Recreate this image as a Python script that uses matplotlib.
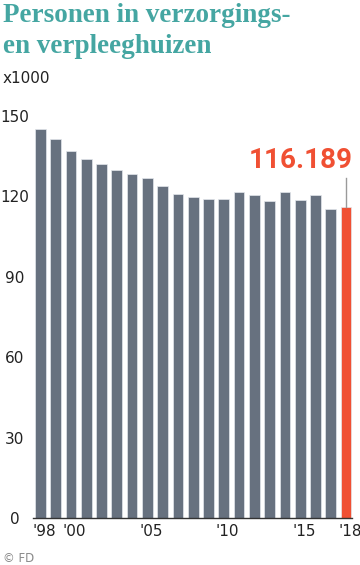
import matplotlib
matplotlib.use("Agg")
import matplotlib.pyplot as plt

# Data
years = list(range(1998, 2019))
values = [145.0, 141.3, 136.9, 133.8, 132.1, 129.9, 128.2, 126.8, 123.9, 121.0,
          119.7, 118.9, 119.0, 121.8, 120.4, 118.3, 121.8, 118.7, 120.6, 115.3,
          116.189]
yticks = [0, 30, 60, 90, 120, 150]
xtick_years = [1998, 2000, 2005, 2010, 2015, 2018]
xtick_labels = ["'98", "'00", "'05", "'10", "'15", "'18"]
highlight_label = "116.189"

W, H = 360, 565
fig = plt.figure(figsize=(W / 100, H / 100), dpi=100, facecolor="w")
ax = fig.add_axes([33 / W, 1 - 518 / H, (352 - 33) / W, (518 - 116) / H])

grey = "#67717f"
orange = "#f05033"
colors = [grey] * (len(years) - 1) + [orange]
x = list(range(len(years)))
ax.bar(x, values, width=0.7, color=colors, edgecolor="#e3e7ec", linewidth=0.5)

ax.set_xlim(-0.48, len(years) - 1 + 0.39)
ax.set_ylim(0, 150)

for s in ["top", "right", "left"]:
    ax.spines[s].set_visible(False)
ax.spines["bottom"].set_color("#333333")
ax.spines["bottom"].set_linewidth(1.0)

ax.set_yticks(yticks, [str(v) for v in yticks])
ax.tick_params(axis="y", length=0, pad=13, labelsize=11, labelcolor="#222222")
for lbl in ax.get_yticklabels():
    lbl.set_ha("center")

ax.set_xticks([years.index(y) + 0.25 for y in xtick_years], xtick_labels)
ax.tick_params(axis="x", length=0, pad=4, labelsize=11, labelcolor="#222222")

# annotation for last bar
last = len(years) - 1
ax.plot([last, last], [values[-1], 126.9], color="#9a9a9a", lw=1, clip_on=False)
fig.text(353 / W, 1 - 168 / H, highlight_label, ha="right", va="baseline",
         fontsize=20, fontweight="bold", family="Roboto", color=orange)

fig.text(3 / W, 1 - 22 / H, "Personen in verzorgings-", ha="left", va="baseline",
         fontsize=19.5, fontweight="bold", family="Liberation Serif", color="#45a6a2")
fig.text(3 / W, 1 - 53 / H, "en verpleeghuizen", ha="left", va="baseline",
         fontsize=19.5, fontweight="bold", family="Liberation Serif", color="#45a6a2")
fig.text(3 / W, 1 - 83 / H, "x1000", ha="left", va="baseline",
         fontsize=11, color="#222222")
fig.text(3 / W, 1 - 562 / H, "© FD", ha="left", va="baseline",
         fontsize=8.5, color="#8a8a8a")

fig.savefig("out.png", dpi=100)
